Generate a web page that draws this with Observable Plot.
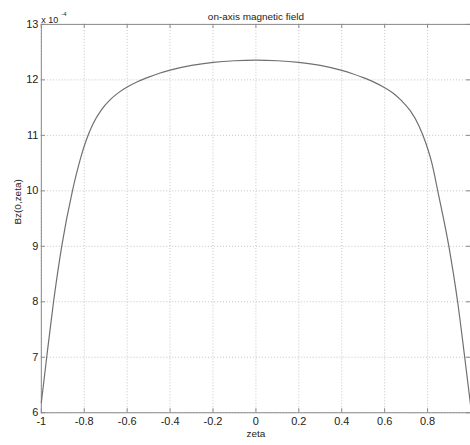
<!DOCTYPE html>
<html>
<head>
<meta charset="utf-8">
<script src="https://cdn.jsdelivr.net/npm/d3@7"></script>
<script src="https://cdn.jsdelivr.net/npm/@observablehq/plot@0.6"></script>
<style>
  html, body { margin: 0; padding: 0; background: #fff; overflow: hidden; }
</style>
</head>
<body>
<div id="chart"></div>
<script>
// on-axis field values, in units of 1e-4
const zeta = [-1, -0.975, -0.943, -0.905, -0.855, -0.82, -0.79, -0.76, -0.72, -0.68, -0.64, -0.6, -0.55, -0.5, -0.45, -0.4, -0.3, -0.2, -0.1, 0,
              0.1, 0.2, 0.3, 0.4, 0.45, 0.5, 0.55, 0.6, 0.64, 0.68, 0.72, 0.76, 0.79, 0.82, 0.85, 0.9, 0.94, 0.973, 1];
const bz   = [6.18, 7.0, 8.0, 9.0, 10.0, 10.55, 10.92, 11.2, 11.46, 11.64, 11.77, 11.87, 11.97, 12.05, 12.12, 12.175, 12.26, 12.315, 12.345, 12.355,
              12.345, 12.315, 12.26, 12.17, 12.11, 12.04, 11.96, 11.86, 11.76, 11.62, 11.44, 11.17, 10.88, 10.5, 9.95, 8.98, 8.0, 7.0, 6.15];
const xTicks = [-1, -0.8, -0.6, -0.4, -0.2, 0, 0.2, 0.4, 0.6, 0.8, 1];
const xTickLabels = [-1, -0.8, -0.6, -0.4, -0.2, 0, 0.2, 0.4, 0.6, 0.8];
const yTicks = [6, 7, 8, 9, 10, 11, 12, 13];
const title = "on-axis magnetic field";
const xLabel = "zeta";
const yLabel = "Bz(0,zeta)";
const expBase = "x 10";
const expPow = "-4";

const data = zeta.map((z, i) => ({z, b: bz[i]}));

const W = 472, H = 445, mL = 41, mR = 0, mT = 24, mB = 31;
const pw = W - mL - mR, ph = H - mT - mB;
const tick = 4;
const gridStyle = {stroke: "#c4c4c4", strokeOpacity: 1, strokeDasharray: "1,2"};

const chart = Plot.plot({
  width: W, height: H,
  marginLeft: mL, marginRight: mR, marginTop: mT, marginBottom: mB,
  style: {fontFamily: "'Liberation Sans', Arial, sans-serif", fontSize: "11px", color: "#222", background: "#fff", overflow: "visible"},
  x: {domain: [-1, 1]},
  y: {domain: [6, 13]},
  marks: [
    Plot.gridX(xTicks, gridStyle),
    Plot.gridY(yTicks, gridStyle),
    Plot.tickX(xTicks, {x: d => d, insetTop: ph - tick, stroke: "#888"}),
    Plot.tickX(xTicks, {x: d => d, insetBottom: ph - tick, stroke: "#888"}),
    Plot.tickY(yTicks, {y: d => d, insetRight: pw - tick, stroke: "#888"}),
    Plot.tickY(yTicks, {y: d => d, insetLeft: pw - tick, stroke: "#888"}),
    Plot.frame({stroke: "#8a8a8a"}),
    Plot.axisX(xTickLabels, {anchor: "bottom", tickSize: 0, tickPadding: 5, tickFormat: d => String(d), label: null, fontSize: 11}),
    Plot.axisY(yTicks, {anchor: "left", tickSize: 0, tickPadding: 3, tickFormat: d => String(d), label: null, fontSize: 11}),
    Plot.line(data, {x: "z", y: "b", stroke: "#707070", strokeWidth: 1.2, curve: "monotone-x"}),
    Plot.text([title], {frameAnchor: "top", dy: -12, fontSize: 10, text: d => d}),
    Plot.text([xLabel], {frameAnchor: "bottom", dy: 24, fontSize: 10, text: d => d}),
    Plot.text([yLabel], {frameAnchor: "left", dx: -24, dy: 6, rotate: -90, fontSize: 10, text: d => d}),
    Plot.text([expBase], {frameAnchor: "top-left", dx: 0, dy: -8, textAnchor: "start", fontSize: 9, text: d => d}),
    Plot.text([expPow], {frameAnchor: "top-left", dx: 20, dy: -13, textAnchor: "start", fontSize: 6, text: d => d})
  ]
});
document.getElementById("chart").appendChild(chart);
</script>
</body>
</html>
